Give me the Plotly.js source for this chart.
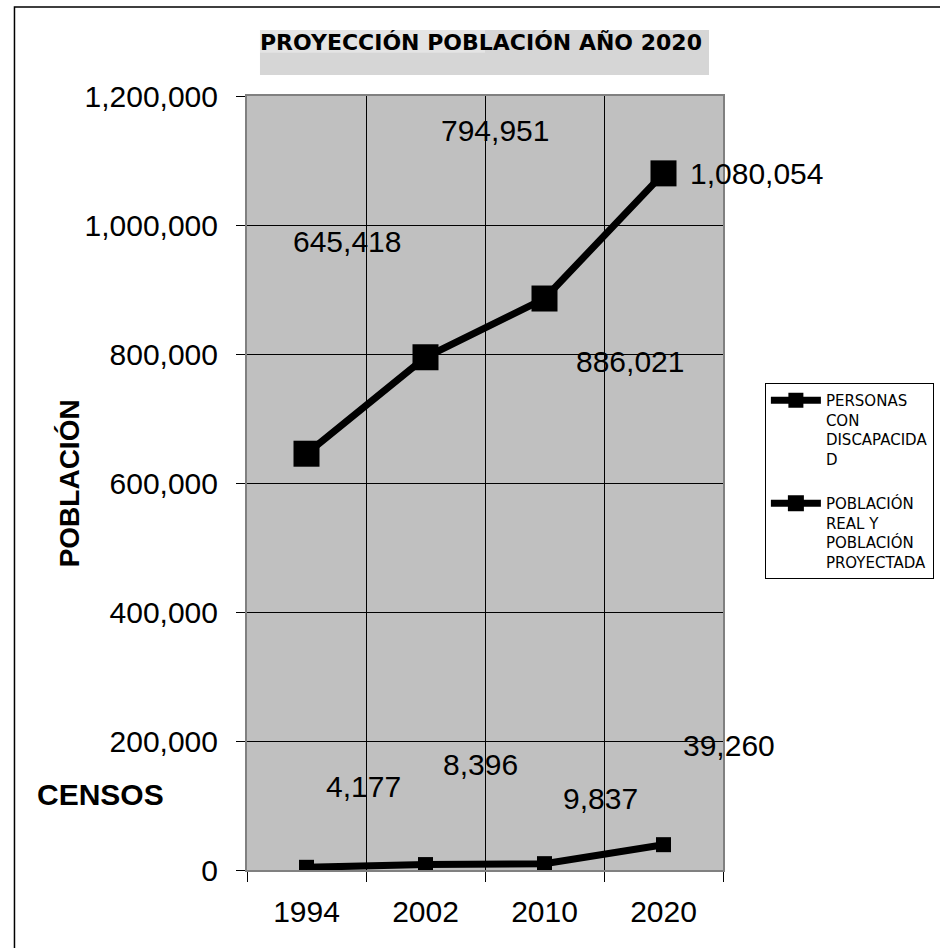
<!DOCTYPE html>
<html>
<head>
<meta charset="utf-8">
<script src="https://cdn.plot.ly/plotly-3.0.1.min.js"></script>
<style>html,body{margin:0;padding:0;background:#fff;}#chart{width:940px;height:948px;}</style>
</head>
<body>
<div id="chart"></div>
<script>
// ---- data ----
const years = ['1994', '2002', '2010', '2020'];
const poblacion = [645418, 794951, 886021, 1080054];
const discapacidad = [4177, 8396, 9837, 39260];
const namePersonas = 'PERSONAS<br>CON<br>DISCAPACIDA<br>D';
const namePoblacion = 'POBLACIÓN<br>REAL Y<br>POBLACIÓN<br>PROYECTADA';
const chartTitle = 'PROYECCIÓN POBLACIÓN AÑO 2020';
const yTitle = 'POBLACIÓN';
const xTitle = 'CENSOS';
const yTicks = [0, 200000, 400000, 600000, 800000, 1000000, 1200000];

// ---- label placement (pixel shifts, as in the original chart) ----
const shiftPob = [[40, 212], [69, 227], [85, -63], [93, 0]];
const shiftDis = [[57, 81], [55, 100], [56, 65], [65, 99]];

const fmt = v => v.toLocaleString('en-US');
const arial = 'Liberation Sans, Arial, sans-serif';
const comic = 'Comic Sans MS, DejaVu Sans, sans-serif';

const traces = [
  {
    x: years, y: discapacidad, name: namePersonas, type: 'scatter', mode: 'lines+markers',
    legendgroup: 'a',
    line: {color: '#000', width: 7},
    marker: {symbol: 'square', size: 15, color: '#000'}
  },
  {
    x: years, y: poblacion, name: namePoblacion, type: 'scatter', mode: 'lines+markers',
    legendgroup: 'b',
    line: {color: '#000', width: 7},
    marker: {symbol: 'square', size: 26, color: '#000'}
  }
];

const annotations = [];
years.forEach((yr, i) => {
  annotations.push({x: i, y: poblacion[i], xref: 'x', yref: 'y', text: fmt(poblacion[i]),
    showarrow: false, xanchor: 'center', yanchor: 'middle',
    xshift: shiftPob[i][0], yshift: shiftPob[i][1], font: {family: arial, size: 30, color: '#000'}});
  annotations.push({x: i, y: discapacidad[i], xref: 'x', yref: 'y', text: fmt(discapacidad[i]),
    showarrow: false, xanchor: 'center', yanchor: 'middle',
    xshift: shiftDis[i][0], yshift: shiftDis[i][1], font: {family: arial, size: 30, color: '#000'}});
});
annotations.push({xref: 'paper', yref: 'paper', x: 0.4906, y: 1.0691, text: '<b>' + chartTitle + '</b>',
  showarrow: false, xanchor: 'center', yanchor: 'middle', font: {family: comic, size: 22, color: '#000'}});
annotations.push({xref: 'paper', yref: 'paper', x: -0.3732, y: 0.5, text: '<b>' + yTitle + '</b>',
  textangle: -90, showarrow: false, xanchor: 'center', yanchor: 'middle', font: {family: arial, size: 28, color: '#000'}});
annotations.push({xref: 'paper', yref: 'paper', x: -0.3082, y: 0.0969, text: '<b>' + xTitle + '</b>',
  showarrow: false, xanchor: 'center', yanchor: 'middle', font: {family: arial, size: 30, color: '#000'}});

const layout = {
  width: 940, height: 948,
  margin: {l: 247, r: 217, t: 96, b: 78, autoexpand: false},
  paper_bgcolor: '#fff', plot_bgcolor: '#c0c0c0',
  showlegend: true,
  legend: {
    x: 1.088, y: 0.6292, xanchor: 'left', yanchor: 'top',
    bgcolor: '#fff', bordercolor: '#000', borderwidth: 1,
    font: {family: comic, size: 15, color: '#000'},
    valign: 'top', traceorder: 'grouped', tracegroupgap: 22, itemwidth: 50
  },
  xaxis: {
    type: 'category', range: [-0.5, 3.5], tickson: 'boundaries',
    showgrid: true, gridcolor: '#000', gridwidth: 1,
    ticks: 'outside', ticklen: 10, tickcolor: '#000', tickwidth: 1,
    ticklabelstandoff: 14,
    showline: true, mirror: true, linecolor: '#808080', linewidth: 2,
    tickfont: {family: arial, size: 30, color: '#000'}, zeroline: false, fixedrange: true
  },
  yaxis: {
    range: [0, 1200000], tickvals: yTicks, tickformat: ',',
    showgrid: true, gridcolor: '#000', gridwidth: 1,
    ticks: 'outside', ticklen: 9, tickcolor: '#000', tickwidth: 1,
    ticklabelstandoff: 12,
    showline: true, mirror: true, linecolor: '#808080', linewidth: 2,
    tickfont: {family: arial, size: 30, color: '#000'}, zeroline: false, fixedrange: true
  },
  shapes: [
    {type: 'rect', xref: 'paper', yref: 'paper', x0: -0.4885, x1: 1.7, y0: -0.3, y1: 1.115,
      line: {color: '#000', width: 1.5}, fillcolor: 'rgba(0,0,0,0)', layer: 'below'},
    {type: 'rect', xref: 'paper', yref: 'paper', x0: 0.02725, x1: 0.9706, y0: 1.0271, y1: 1.0853,
      line: {width: 0}, fillcolor: '#d6d6d6', layer: 'below'},
    {type: 'rect', xref: 'paper', yref: 'paper', x0: 0.02725, x1: 0.5, y0: 1.056, y1: 1.0853,
      line: {width: 0}, fillcolor: 'rgba(255,255,255,0.35)', layer: 'below'}
  ],
  annotations: annotations
};

Plotly.newPlot('chart', traces, layout, {displayModeBar: false, staticPlot: true});
</script>
</body>
</html>
